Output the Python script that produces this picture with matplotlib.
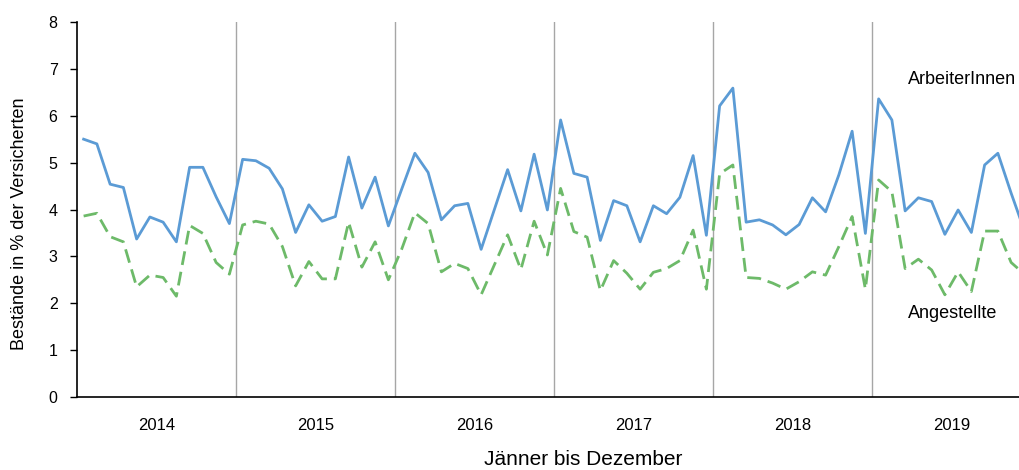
#! /usr/bin/env python3
# Bestaende (in % der Versicherten), ArbeiterInnen vs Angestellte, monthly 2014-2019

import matplotlib
matplotlib.use('Agg')
import matplotlib.pyplot as plt
import numpy as np

plt.rcParams['font.family'] = ['Liberation Sans', 'DejaVu Sans']

years = ['2014', '2015', '2016', '2017', '2018', '2019']

arbeiter = [
    5.50, 5.40, 4.54, 4.47, 3.37, 3.84, 3.73, 3.31, 4.90, 4.90, 4.27, 3.70,
    5.07, 5.04, 4.88, 4.44, 3.51, 4.10, 3.75, 3.85, 5.12, 4.03, 4.69, 3.65,
    4.43, 5.20, 4.79, 3.78, 4.08, 4.13, 3.15, 4.00, 4.85, 3.97, 5.18, 3.99,
    5.91, 4.77, 4.69, 3.34, 4.19, 4.08, 3.31, 4.08, 3.91, 4.26, 5.15, 3.45,
    6.21, 6.59, 3.73, 3.78, 3.67, 3.46, 3.68, 4.25, 3.95, 4.74, 5.67, 3.49,
    6.36, 5.91, 3.97, 4.25, 4.17, 3.47, 3.99, 3.51, 4.95, 5.20, 4.35, 3.55,
]

angestellte = [
    3.86, 3.92, 3.42, 3.31, 2.35, 2.60, 2.55, 2.15, 3.66, 3.49, 2.87, 2.62,
    3.67, 3.75, 3.69, 3.21, 2.37, 2.89, 2.52, 2.52, 3.73, 2.77, 3.31, 2.50,
    3.15, 3.93, 3.70, 2.67, 2.85, 2.74, 2.18, 2.82, 3.46, 2.72, 3.75, 3.03,
    4.45, 3.53, 3.41, 2.27, 2.91, 2.64, 2.30, 2.66, 2.74, 2.91, 3.56, 2.30,
    4.76, 4.95, 2.55, 2.53, 2.43, 2.30, 2.46, 2.67, 2.60, 3.21, 3.85, 2.30,
    4.63, 4.38, 2.74, 2.94, 2.71, 2.18, 2.67, 2.25, 3.54, 3.54, 2.87, 2.62,
]

blue = '#5b9bd5'
green = '#6dba69'
sep = '#a6a6a6'

x = np.arange(len(arbeiter))

fig = plt.figure(figsize=(10.19, 4.70), dpi=100)
# right edge of the plot area runs past the picture edge, as in the original
ax = fig.add_axes([77 / 1019, 73 / 470, (1031 - 77) / 1019, 375 / 470])

for k in range(1, len(years)):
    ax.axvline(12 * k - 0.5, color=sep, lw=1.0, zorder=1)

ax.plot(x, arbeiter, color=blue, lw=2.0, zorder=3)
ax.plot(x, angestellte, color=green, lw=2.0, dashes=(5, 2.5), zorder=2)

ax.set_xlim(-0.5, len(arbeiter) - 0.5)
ax.set_ylim(0, 8)
ax.set_yticks(range(0, 9))
ax.tick_params(axis='y', direction='out', length=5, width=1, labelsize=11.5, pad=9)
ax.set_xticks([12 * k + 5.5 for k in range(len(years))])
ax.set_xticklabels(years, fontsize=12)
ax.tick_params(axis='x', length=0, pad=15)

for s in ['top', 'right']:
    ax.spines[s].set_visible(False)
ax.spines['left'].set_linewidth(1.2)
ax.spines['bottom'].set_linewidth(1.2)

ax.set_ylabel('Bestände in % der Versicherten', fontsize=13)
ax.yaxis.set_label_coords(-0.0515, 0.463)
fig.text(583 / 1019, 1 / 470, 'Jänner bis Dezember', ha='center', va='bottom', fontsize=15)

fig.text(908 / 1019, 1 - 80 / 470, 'ArbeiterInnen', ha='left', va='center', fontsize=13)
fig.text(908 / 1019, 1 - 313 / 470, 'Angestellte', ha='left', va='center', fontsize=13)

fig.savefig('out.png', dpi=100)
